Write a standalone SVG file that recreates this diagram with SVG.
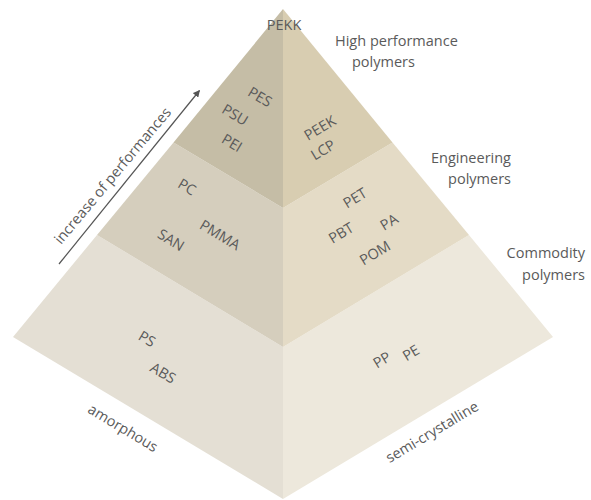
<svg xmlns="http://www.w3.org/2000/svg" width="591" height="500" viewBox="0 0 591 500">
  <defs>
    <style>
      text { font-family: "Open Sans", "Liberation Sans", sans-serif; font-size: 14.5px; fill: #5a5a5a; }
      .m { text-anchor: middle; }
      .e { text-anchor: end; }
      .arrow { stroke: #555555; stroke-width: 1.2; fill: none; }
    </style>
    <marker id="ah" viewBox="0 0 10 10" refX="9" refY="5" markerWidth="7" markerHeight="7" orient="auto" markerUnits="userSpaceOnUse">
      <path d="M0,0 L10,5 L0,10 z" fill="#555555"/>
    </marker>
  </defs>
  <rect width="591" height="500" fill="#ffffff"/>

  <g id="level-commodity">
    <polygon points="97,235 13,337 283,499 283,347" fill="#e4dfd4"/>
    <polygon points="283,347 283,499 553,337 469,235" fill="#ede8dc"/>
    <g transform="translate(147,339) rotate(31)"><text class="m" y="5">PS</text></g>
    <g transform="translate(163,373) rotate(31)"><text class="m" y="5">ABS</text></g>
    <g transform="translate(382,360) rotate(-31)"><text class="m" y="5">PP</text></g>
    <g transform="translate(411,353) rotate(-31)"><text class="m" y="5">PE</text></g>
  </g>

  <g id="level-engineering">
    <polygon points="173.5,142.5 97,235 283,347 283,208" fill="#d5cebd"/>
    <polygon points="283,208 283,347 469,235 392.5,142.5" fill="#e4dbc6"/>
    <g transform="translate(187,187) rotate(31)"><text class="m" y="5">PC</text></g>
    <g transform="translate(220,235) rotate(31)"><text class="m" y="5">PMMA</text></g>
    <g transform="translate(171,240) rotate(31)"><text class="m" y="5">SAN</text></g>
    <g transform="translate(355,198) rotate(-31)"><text class="m" y="5">PET</text></g>
    <g transform="translate(341,233) rotate(-31)"><text class="m" y="5">PBT</text></g>
    <g transform="translate(389,222) rotate(-31)"><text class="m" y="5">PA</text></g>
    <g transform="translate(375,253) rotate(-31)"><text class="m" y="5">POM</text></g>
  </g>

  <g id="level-high">
    <polygon points="283,9 173.5,142.5 283,208" fill="#c5bda6"/>
    <polygon points="283,9 283,208 392.5,142.5" fill="#d8cdb1"/>
    <text class="m" x="284" y="30">PEKK</text>
    <g transform="translate(260,97) rotate(31)"><text class="m" y="5">PES</text></g>
    <g transform="translate(235,115) rotate(31)"><text class="m" y="5">PSU</text></g>
    <g transform="translate(232,143) rotate(31)"><text class="m" y="5">PEI</text></g>
    <g transform="translate(320,128) rotate(-31)"><text class="m" y="5">PEEK</text></g>
    <g transform="translate(323,150) rotate(-31)"><text class="m" y="5">LCP</text></g>
  </g>

  <g id="label-high">
    <text x="335" y="46">High performance</text>
    <text x="352" y="67">polymers</text>
  </g>
  <g id="label-engineering">
    <text class="e" x="511" y="163">Engineering</text>
    <text class="e" x="511" y="184">polymers</text>
  </g>
  <g id="label-commodity">
    <text class="e" x="585" y="258">Commodity</text>
    <text class="e" x="585" y="280">polymers</text>
  </g>

  <g id="label-amorphous" transform="translate(123,428) rotate(31)"><text class="m" y="5">amorphous</text></g>
  <g id="label-semicrystalline" transform="translate(432,432) rotate(-31)"><text class="m" y="5">semi-crystalline</text></g>

  <g id="label-increase" transform="translate(61,245) rotate(-50)"><text>increase of performances</text></g>

  <g id="connectors">
    <line class="arrow" x1="59" y1="264" x2="199.5" y2="90.5" marker-end="url(#ah)"/>
  </g>
</svg>
